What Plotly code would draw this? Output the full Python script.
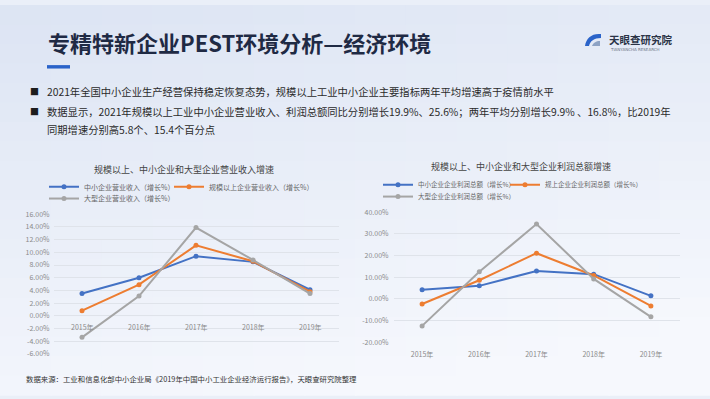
import plotly.graph_objects as go

# ---------------- data ----------------
years = ["2015年", "2016年", "2017年", "2018年", "2019年"]

rev_sme = [3.5, 6.0, 9.4, 8.5, 4.1]
rev_above = [0.8, 4.9, 11.1, 8.6, 3.8]
rev_large = [-3.4, 3.1, 13.9, 8.8, 3.5]

prof_sme = [4.2, 6.0, 12.9, 11.4, 1.4]
prof_above = [-2.4, 8.6, 21.1, 10.8, -3.3]
prof_large = [-12.5, 12.5, 34.6, 9.2, -8.3]

names_rev = ["中小企业营业收入（增长%）", "规模以上企业营业收入（增长%）", "大型企业营业收入（增长%）"]
names_prof = ["中小企业企业利润总额（增长%）", "规上企业企业利润总额（增长%）", "大型企业企业利润总额（增长%）"]
colors = ["#4472c4", "#ed7d31", "#a5a5a5"]

rev_ticks = [16, 14, 12, 10, 8, 6, 4, 2, 0, -2, -4, -6]
prof_ticks = [40, 30, 20, 10, 0, -10, -20]

page_title = "专精特新企业PEST环境分析—经济环境"
bullet1 = "2021年全国中小企业生产经营保持稳定恢复态势，规模以上工业中小企业主要指标两年平均增速高于疫情前水平"
bullet2a = "数据显示，2021年规模以上工业中小企业营业收入、利润总额同比分别增长19.9%、25.6%；两年平均分别增长9.9% 、16.8%，比2019年"
bullet2b = "同期增速分别高5.8个、15.4个百分点"
chart1_title = "规模以上、中小企业和大型企业营业收入增速"
chart2_title = "规模以上、中小企业和大型企业利润总额增速"
source = "数据来源：工业和信息化部中小企业局《2019年中国中小工业企业经济运行报告》，天眼查研究院整理"

W, H = 710, 399
FONT = "Noto Sans CJK SC"

def px(x):
    return x / W

def py(y):
    return 1 - y / H

fig = go.Figure()

rev_series = [rev_sme, rev_above, rev_large]
prof_series = [prof_sme, prof_above, prof_large]
for i in range(3):
    fig.add_trace(go.Scatter(
        x=years, y=rev_series[i], name=names_rev[i], mode="lines+markers",
        line=dict(color=colors[i], width=2), marker=dict(size=5, color=colors[i]),
        xaxis="x", yaxis="y", legend=["legend2", "legend3", "legend4"][i], showlegend=True,
    ))
for i in range(3):
    fig.add_trace(go.Scatter(
        x=years, y=prof_series[i], name=names_prof[i], mode="lines+markers",
        line=dict(color=colors[i], width=2), marker=dict(size=5, color=colors[i]),
        xaxis="x2", yaxis="y2", legend=["legend5", "legend6", "legend7"][i], showlegend=True,
    ))

# ---------------- background gradient ----------------
def blend(c1, c2, t):
    return "rgb(%d,%d,%d)" % tuple(round(a + (b - a) * t) for a, b in zip(c1, c2))

top_left = (220, 228, 243)
bottom_right = (246, 248, 253)
shapes = []
NX, NY = 14, 20
for i in range(NX):
    for j in range(NY):
        t = 0.75 * (j + 0.5) / NY + 0.25 * (i + 0.5) / NX
        t = min(1, t * 1.15)
        shapes.append(dict(type="rect", xref="paper", yref="paper",
                           x0=i / NX, x1=(i + 1) / NX + 0.002,
                           y0=1 - (j + 1) / NY - 0.002, y1=1 - j / NY,
                           fillcolor=blend(top_left, bottom_right, t),
                           line=dict(width=0), layer="below"))
# title underline
shapes.append(dict(type="rect", xref="paper", yref="paper",
                   x0=px(47), x1=px(70), y0=py(65), y1=py(61.5),
                   fillcolor="#2a63c9", line=dict(width=0)))
# logo icon
shapes.append(dict(type="path", xref="paper", yref="paper",
                   xsizemode="pixel", ysizemode="pixel",
                   xanchor=px(585), yanchor=py(42),
                   path="M0,0 C1,8 7,13 16,12 L16,8 C9,8 5,5 4,0 Z",
                   fillcolor="#2a63c9", line=dict(width=0)))
shapes.append(dict(type="path", xref="paper", yref="paper",
                   xsizemode="pixel", ysizemode="pixel",
                   xanchor=px(585), yanchor=py(42),
                   path="M7,0 C8,3 11,5 15,5 L15,0 Z",
                   fillcolor="#8ea3c4", line=dict(width=0)))

# ---------------- annotations ----------------
ann = []
ann.append(dict(text="<b>" + page_title + "</b>", x=px(46), y=py(38), xref="paper", yref="paper",
                xanchor="left", yanchor="middle", showarrow=False,
                font=dict(family=FONT, size=22, color="#1f2a44")))
ann.append(dict(text="<b>天眼查研究院</b>", x=px(607), y=py(35), xref="paper", yref="paper",
                xanchor="left", yanchor="middle", showarrow=False,
                font=dict(family=FONT, size=10.5, color="#2b3447")))
ann.append(dict(text="TIANYANCHA RESEARCH", x=px(608), y=py(46), xref="paper", yref="paper",
                xanchor="left", yanchor="middle", showarrow=False,
                font=dict(family="DejaVu Sans", size=4, color="#6b7485")))
for yb in (88, 109):
    ann.append(dict(text="■", x=px(28), y=py(yb), xref="paper", yref="paper",
                    xanchor="left", yanchor="middle", showarrow=False,
                    font=dict(family=FONT, size=9, color="#1d1d1d")))
for txt, yb in ((bullet1, 88), (bullet2a, 109), (bullet2b, 127)):
    ann.append(dict(text=txt, x=px(45), y=py(yb), xref="paper", yref="paper",
                    xanchor="left", yanchor="middle", showarrow=False,
                    font=dict(family=FONT, size=10.3, color="#2a2a2a")))
ann.append(dict(text=chart1_title, x=px(184), y=py(168), xref="paper", yref="paper",
                xanchor="center", yanchor="middle", showarrow=False,
                font=dict(family=FONT, size=9, color="#444444")))
ann.append(dict(text=chart2_title, x=px(521), y=py(165.5), xref="paper", yref="paper",
                xanchor="center", yanchor="middle", showarrow=False,
                font=dict(family=FONT, size=9, color="#444444")))
ann.append(dict(text=source, x=px(24), y=py(382), xref="paper", yref="paper",
                xanchor="left", yanchor="middle", showarrow=False,
                font=dict(family=FONT, size=7.4, color="#333333")))
# left chart category labels sit on the zero line
for yr in years:
    ann.append(dict(text=yr, x=yr, y=0, xref="x", yref="y", yshift=-11,
                    xanchor="center", yanchor="middle", showarrow=False,
                    font=dict(family=FONT, size=7, color="#8a8a8a")))

def leg(x, y, size=7):
    return dict(orientation="h", x=px(x), y=py(y), xanchor="left", yanchor="middle",
                itemwidth=30, bgcolor="rgba(0,0,0,0)",
                font=dict(family=FONT, size=size, color="#666666"))

fig.update_layout(
    width=W, height=H, margin=dict(l=0, r=0, t=0, b=0),
    paper_bgcolor="#eaeff8", plot_bgcolor="rgba(0,0,0,0)",
    font=dict(family=FONT, size=7, color="#8a8a8a"),
    shapes=shapes, annotations=ann, showlegend=True,
    xaxis=dict(domain=[px(53.5), px(338.5)], range=[-0.5, 4.5], showticklabels=False,
               showgrid=False, zeroline=False, showline=False, ticks="", fixedrange=True),
    yaxis=dict(domain=[py(357), py(214)], range=[-6.02, 16.02], tickvals=rev_ticks,
               ticktext=["%.2f%%" % v for v in rev_ticks],
               showgrid=True, gridcolor="#dfe3ea", gridwidth=1,
               zeroline=False, showline=False, ticks="", ticklabelstandoff=3,
               tickfont=dict(family=FONT, size=7, color="#8a8a8a")),
    xaxis2=dict(domain=[px(393.5), px(679.5)], range=[-0.5, 4.5], showgrid=False, zeroline=False,
                showline=False, ticks="", ticklabelstandoff=7,
                tickfont=dict(family=FONT, size=7, color="#8a8a8a"), anchor="y2"),
    yaxis2=dict(domain=[py(345), py(212)], range=[-20.05, 40.05], tickvals=prof_ticks,
                ticktext=["%.2f%%" % v for v in prof_ticks],
                showgrid=True, gridcolor="#dfe3ea", gridwidth=1,
                zeroline=False, showline=False, ticks="", ticklabelstandoff=4, anchor="x2",
                tickfont=dict(family=FONT, size=7, color="#8a8a8a")),
    legend2=leg(44, 186),
    legend3=leg(169, 186),
    legend4=leg(44, 198),
    legend5=leg(378, 184, 6.5),
    legend6=leg(505, 184, 6.5),
    legend7=leg(378, 196, 6.5),
)

fig.write_html("out.html", config={"displayModeBar": False},
               post_script="document.body.style.margin='0';document.body.style.padding='0';")
